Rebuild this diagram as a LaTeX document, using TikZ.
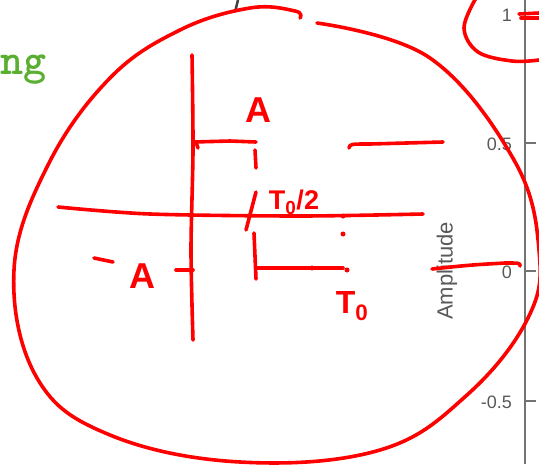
\documentclass[tikz,border=0pt]{standalone}
\usepackage{fontspec}
\setsansfont{Liberation Sans}
\begin{document}
\begin{tikzpicture}[x=1pt,y=-1pt,
  pen/.style={draw=red, line width=3.6pt, line cap=round, line join=round},
  dotmark/.style={fill=red, circle, inner sep=0pt, minimum size=5pt},
  hand/.style={text=red, font=\sffamily\bfseries\fontsize{36}{36}\selectfont, inner sep=0pt},
  axislbl/.style={text=black!65, font=\sffamily\fontsize{18}{18}\selectfont, inner sep=0pt, anchor=east},
  gaxis/.style={draw=black!55, line width=2pt}]
\useasboundingbox (0,0) rectangle (539,464);
\clip (0,0) rectangle (539,464);
% background plot axis
\draw[gaxis] (525,0) -- (525,464);
\foreach \yy in {14,143,271,401} \draw[gaxis] (525,\yy) -- (536,\yy);
\node[axislbl] (l1) at (512,15) {1};
\node[axislbl] (l05) at (512,144) {0.5};
\node[axislbl] (l0) at (512,272) {0};
\node[axislbl] (lm05) at (512,402) {-0.5};
\node[text=black!65, font=\sffamily\fontsize{22}{22}\selectfont, rotate=90, inner sep=0pt] (amp) at (447,271) {Amplitude};
\draw[draw=black!75, line width=2.5pt] (238,0) -- (235,12);
\node[text={rgb,255:red,90;green,175;blue,50}, font=\ttfamily\bfseries\fontsize{44}{44}\selectfont, inner sep=0pt, anchor=base west] (ng) at (0,74) {ng};
% big loop
\draw[pen] plot[smooth, tension=0.65] coordinates {(300,18) (295,11) (250,8) (180,30) (110,78) (48,165) (14,270) (37,378) (110,435) (240,462) (380,450) (467,395) (528,318) (539,250) (514,160) (430,58) (317,23)};
% top-right loop
\draw[pen] plot[smooth, tension=0.6] coordinates {(476,-2) (464,28) (478,52) (512,61) (539,60)};
\draw[pen] (519,14) -- (539,13);
\draw[pen] (521,18) -- (539,18);
% sketch axes
\draw[pen] plot[smooth] coordinates {(192,55) (193,150) (191,250) (193,340)};
\draw[pen] plot[smooth] coordinates {(58,207) (150,214) (300,216) (423,214)};
% top pulse
\draw[pen] (193,142) -- (230,141) -- (256,142);
\draw[pen] (196,142) -- (198,148);
\draw[pen] (255,150) -- (256,168);
\draw[pen] (256,192) -- (246,230);
\draw[pen] (254,233) -- (256,279);
% bottom pulse
\draw[pen] (256,268) -- (343,268);
\node[dotmark] (d1) at (312,268) {};
\node[dotmark] (d2) at (343,216) {};
\node[dotmark] (d3) at (343,234) {};
\node[dotmark] (d4) at (347,270) {};
% right segments
\draw[pen] (349,148) .. controls (350,144) .. (370,144) -- (443,142);
\draw[pen] (432,269) .. controls (470,265) .. (505,263) .. controls (520,263) .. (520,266);
% -A ticks
\draw[pen] (176,270) -- (193,270);
\draw[pen] (94,258) -- (113,262);
% labels
\node[hand] (A) at (258,110) {A};
\node[hand] (mA) at (142,276) {A};
\node[hand, font=\sffamily\bfseries\fontsize{27}{27}\selectfont] (Th) at (294,202) {T\textsubscript{0}/2};
\node[hand, font=\sffamily\bfseries\fontsize{32}{32}\selectfont] (T0) at (352,306) {T\textsubscript{0}};
\end{tikzpicture}
\end{document}
